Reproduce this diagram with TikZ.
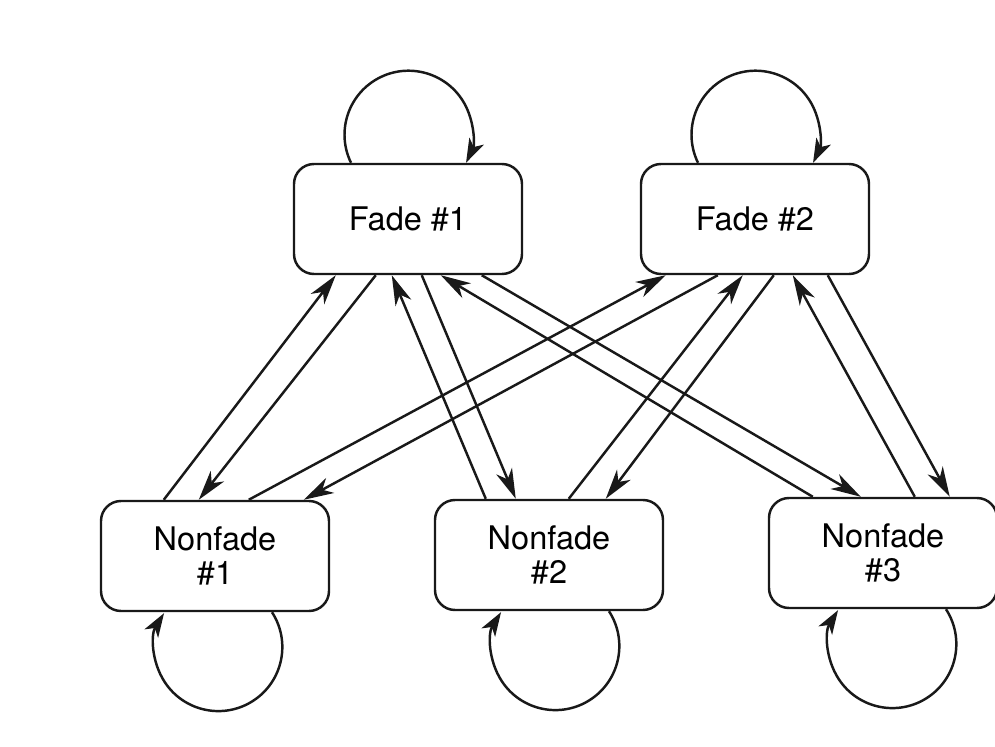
\documentclass[tikz,border=0pt]{standalone}
\usepackage{fontspec}
\setmainfont{TeX Gyre Heros}
\usetikzlibrary{arrows.meta}
\tikzset{state/.style={draw=black!90, rounded corners=4mm, minimum width=45.6mm,
   minimum height=22mm, align=center, line width=1.4pt,
   font=\fontsize{18.5}{19.6}\selectfont},
 trans/.style={draw=black!90, line width=1.4pt,
   -{Stealth[length=6mm,width=3.4mm,inset=1.8mm]}},
 selfloop/.style={draw=black!90, line width=1.4pt,
   -{Stealth[length=4.8mm,width=3.2mm,inset=1.3mm]}},
 }

\begin{document}
\begin{tikzpicture}[x=0.2mm, y=-0.2mm]
        \useasboundingbox (0,0) rectangle (995,747);
        \node[state] (f1) at (408,219) {Fade \#1};
        \node[state] (f2) at (755,219) {Fade \#2};
        \node[state] (n1) at (215,556) {Nonfade\\\#1};
        \node[state] (n2) at (549,555) {Nonfade\\\#2};
        \node[state] (n3) at (883,553) {Nonfade\\\#3};
        \draw[selfloop] ([shift={(-57,0)}]f1.north) arc[start angle=154, end angle=386, radius=64];
        \draw[selfloop] ([shift={(-57,0)}]f2.north) arc[start angle=154, end angle=386, radius=64];
        \draw[selfloop] ([shift={(57,0)}]n1.south) arc[start angle=-33, end angle=212, radius=64];
        \draw[selfloop] ([shift={(60,0)}]n2.south) arc[start angle=-33, end angle=212, radius=64];
        \draw[selfloop] ([shift={(63,0)}]n3.south) arc[start angle=-33, end angle=212, radius=64];
        \draw[trans] ([shift={(64,0)}]n1.north west) -- ([shift={(43,0)}]f1.south west);
        \draw[trans] ([shift={(83,0)}]f1.south west) -- ([shift={(99,0)}]n1.north west);
        \draw[trans] ([shift={(52,0)}]n2.north west) -- ([shift={(99,0)}]f1.south west);
        \draw[trans] ([shift={(129,0)}]f1.south west) -- ([shift={(82,0)}]n2.north west);
        \draw[trans] ([shift={(45,0)}]n3.north west) -- ([shift={(148,0)}]f1.south west);
        \draw[trans] ([shift={(189,0)}]f1.south west) -- ([shift={(93,0)}]n3.north west);
        \draw[trans] ([shift={(149,0)}]n1.north west) -- ([shift={(26,0)}]f2.south west);
        \draw[trans] ([shift={(78,0)}]f2.south west) -- ([shift={(204,0)}]n1.north west);
        \draw[trans] ([shift={(135,0)}]n2.north west) -- ([shift={(103,0)}]f2.south west);
        \draw[trans] ([shift={(134,0)}]f2.south west) -- ([shift={(172,0)}]n2.north west);
        \draw[trans] ([shift={(147,0)}]n3.north west) -- ([shift={(153,0)}]f2.south west);
        \draw[trans] ([shift={(188,0)}]f2.south west) -- ([shift={(182,0)}]n3.north west);
\end{tikzpicture}
\end{document}
